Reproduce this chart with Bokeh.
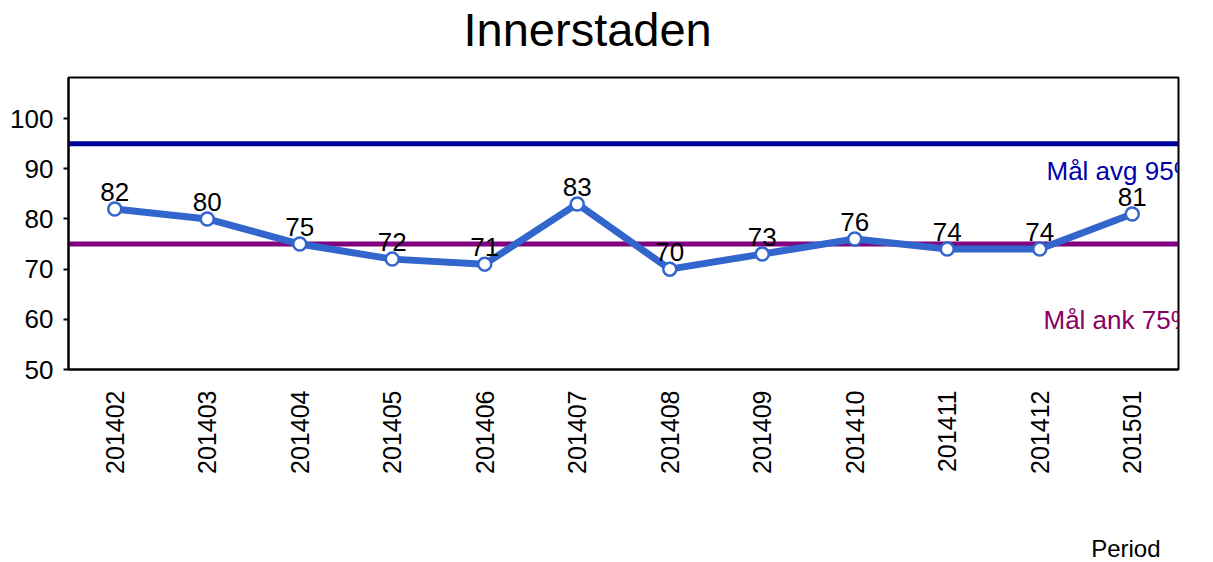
import math
from bokeh.plotting import figure
from bokeh.models import (Span, Label, FixedTicker, Range1d, FactorRange, Title,
                          CategoricalAxis)
from bokeh.core.properties import value
from bokeh.embed import file_html
from bokeh.resources import INLINE

# ---- data ----
periods = ["201402", "201403", "201404", "201405", "201406", "201407",
           "201408", "201409", "201410", "201411", "201412", "201501"]
values = [82, 80, 75, 72, 71, 83, 70, 73, 76, 74, 74, 81]
y_ticks = [50, 60, 70, 80, 90, 100]
goal_avg = 95
goal_ank = 75
title_text = "Innerstaden"
x_label = "Period"
goal_avg_label = "Mål avg 95%"
goal_ank_label = "Mål ank 75%"

FONT = "Liberation Sans"
FS = "26px"
SERIES = "#3366CC"
AVG_LINE = "#00009C"
AVG_TEXT = "#0000AA"
ANK_LINE = "#800080"
ANK_TEXT = "#880060"
LABEL_GAP = 3.4  # data units between point and its value label

p = figure(width=1213, height=562,
           x_range=FactorRange(*periods), y_range=Range1d(50, 108.2),
           output_backend="svg", toolbar_location=None,
           min_border_left=68, min_border_right=35,
           min_border_top=77, min_border_bottom=193)

p.grid.visible = False
p.outline_line_color = "black"
p.outline_line_width = 2
p.outline_line_alpha = 1.0
p.background_fill_color = "white"
p.border_fill_color = "white"
p.title.text = ""

xax = p.xaxis[0]
yax = p.yaxis[0]

# axes
for ax in (xax, yax):
    ax.axis_line_color = "black"
    ax.axis_line_width = 2
    ax.major_label_text_font = FONT
    ax.major_label_text_color = "black"
    ax.minor_tick_line_color = None

xax.major_label_text_font_size = "25px"
xax.major_tick_line_color = None
xax.major_tick_out = 0
xax.major_tick_in = 0
xax.major_label_orientation = math.pi / 2
xax.major_label_standoff = 21

yax.major_label_text_font_size = FS
yax.ticker = FixedTicker(ticks=y_ticks)
yax.major_tick_out = 5
yax.major_tick_in = 0
yax.major_tick_line_color = "black"
yax.major_tick_line_width = 2
yax.major_label_standoff = 10


def spacer(size):
    # an invisible axis used only to reserve space in a side panel
    return CategoricalAxis(axis_line_color=None,
                           major_tick_line_color="white", major_tick_line_alpha=0.01,
                           major_tick_line_width=1,
                           minor_tick_line_color=None,
                           major_tick_out=size, major_tick_in=0,
                           major_label_text_font_size="0px",
                           major_label_text_color=None,
                           major_label_standoff=0)


# title (a spacer keeps it off the frame)
p.add_layout(spacer(22), "above")
p.add_layout(Title(text=title_text, align="left", offset=395, standoff=0,
                   text_font=FONT, text_font_size="47px", text_font_style="normal",
                   text_color="black"), "above")

# goal lines
p.add_layout(Span(location=goal_avg, dimension="width", line_color=AVG_LINE,
                  line_width=5, level="underlay"))
p.add_layout(Span(location=goal_ank, dimension="width", line_color=ANK_LINE,
                  line_width=5, level="underlay"))

# series
p.line(periods, values, line_width=7, line_color=SERIES)
p.scatter(periods, values, size=13, fill_color="white", line_color=SERIES,
          line_width=2.5)
p.text(periods, [v + LABEL_GAP for v in values], text=[str(v) for v in values],
       text_align="center", text_baseline="alphabetic",
       text_font=value(FONT), text_font_size=FS, text_color="black")

n = len(periods)
# goal labels
p.add_layout(Label(x=n, y=goal_avg, x_offset=-132, y_offset=-27, text=goal_avg_label,
                   text_align="left", text_baseline="alphabetic",
                   text_font=FONT, text_font_size=FS, text_color=AVG_TEXT))
p.add_layout(Label(x=n, y=goal_ank, x_offset=-135, y_offset=-76, text=goal_ank_label,
                   text_align="left", text_baseline="alphabetic",
                   text_font=FONT, text_font_size=FS, text_color=ANK_TEXT))

# x axis label, bottom right (a spacer pushes it down)
p.add_layout(spacer(56), "below")
p.add_layout(Title(text=x_label, align="right", offset=18, standoff=0,
                   text_font=FONT, text_font_size="24px", text_font_style="normal",
                   text_color="black"), "below")

open("out.html", "w").write(file_html(p, INLINE))
